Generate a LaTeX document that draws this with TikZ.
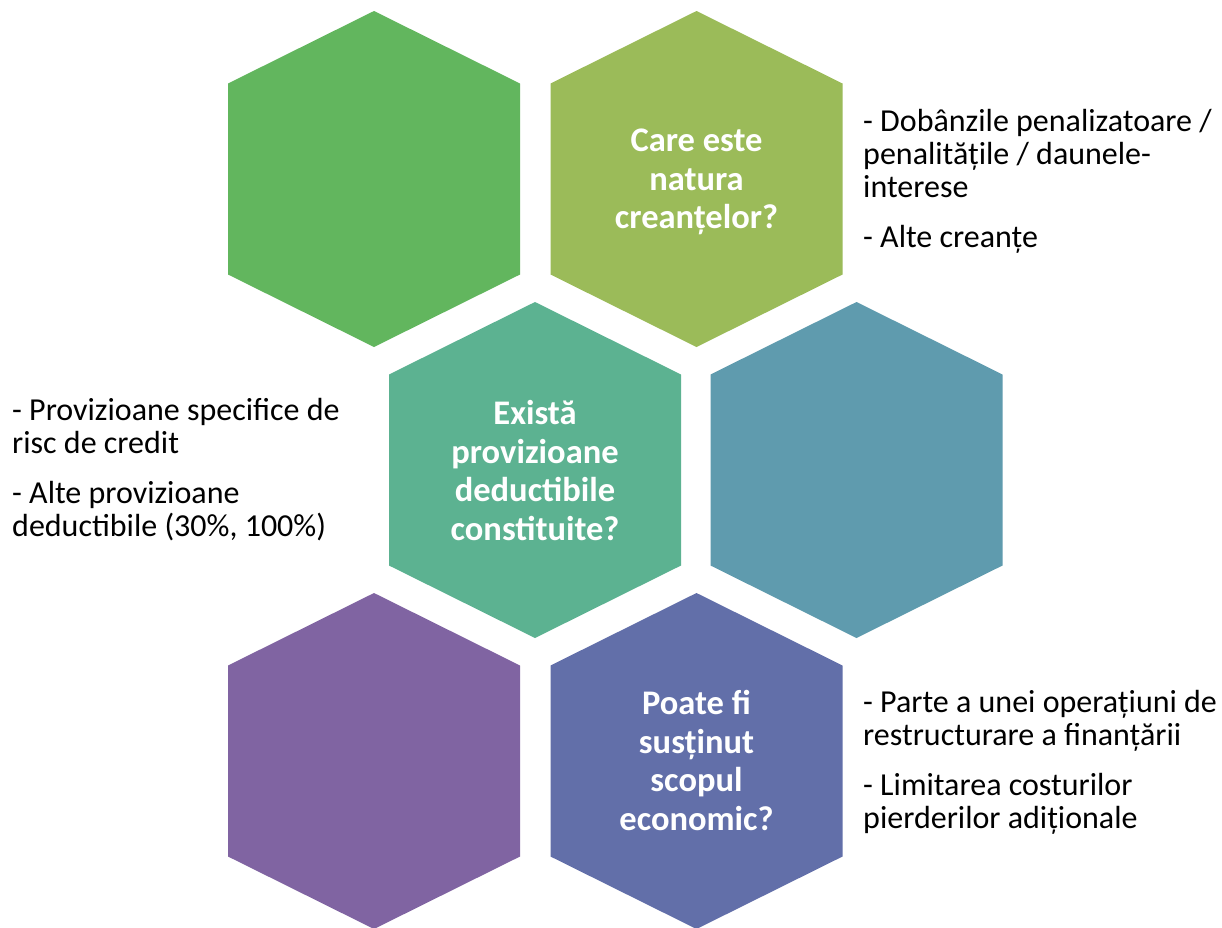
\documentclass[tikz,border=0pt]{standalone}
\usepackage{fontspec}
\setmainfont{Carlito}
\definecolor{cTL}{RGB}{98,182,94}
\definecolor{cTR}{RGB}{155,187,89}
\definecolor{cMM}{RGB}{92,178,145}
\definecolor{cMR}{RGB}{95,155,174}
\definecolor{cBL}{RGB}{128,100,162}
\definecolor{cBR}{RGB}{98,111,169}
\newcommand\hexshape[3]{\fill[#3, shift={(#1,#2)}] (0,-168) -- (146,-95.5) -- (146,95.5) -- (0,168) -- (-146,95.5) -- (-146,-95.5) -- cycle;}
\begin{document}
\begin{tikzpicture}[x=1pt,y=-1pt,
  qtext/.style={text=white, inner sep=0pt, align=center, font=\bfseries\fontsize{34.5}{38.5}\selectfont},
  stext/.style={text=black, inner sep=0pt, align=left, anchor=west, font=\fontsize{32}{33}\selectfont}]
\useasboundingbox (0,0) rectangle (1222,927);
\fill[white] (0,0) rectangle (1222,927);
\hexshape{374}{179}{cTL}
\hexshape{696.5}{179}{cTR}
\hexshape{535}{470}{cMM}
\hexshape{856.5}{470}{cMR}
\hexshape{374}{761}{cBL}
\hexshape{696.5}{761}{cBR}
\node[qtext] (q1) at (696.5,182) {Care este\\natura\\creanțelor?};
\node[qtext] (q2) at (535,470.5) {Există\\provizioane\\deductibile\\constituite?};
\node[qtext] (q3) at (696.5,760.5) {Poate fi\\susținut\\scopul\\economic?};
\node[stext] (s1) at (863,181) {- Dobânzile penalizatoare /\\penalitățile / daunele-\\interese\\[17pt]- Alte creanțe};
\node[stext] (s2) at (12,470) {- Provizioane specifice de\\risc de credit\\[17pt]- Alte provizioane\\deductibile (30\%, 100\%)};
\node[stext] (s3) at (863,762) {- Parte a unei operațiuni de\\restructurare a finanțării\\[17pt]- Limitarea costurilor\\pierderilor adiționale};
\end{tikzpicture}
\end{document}
